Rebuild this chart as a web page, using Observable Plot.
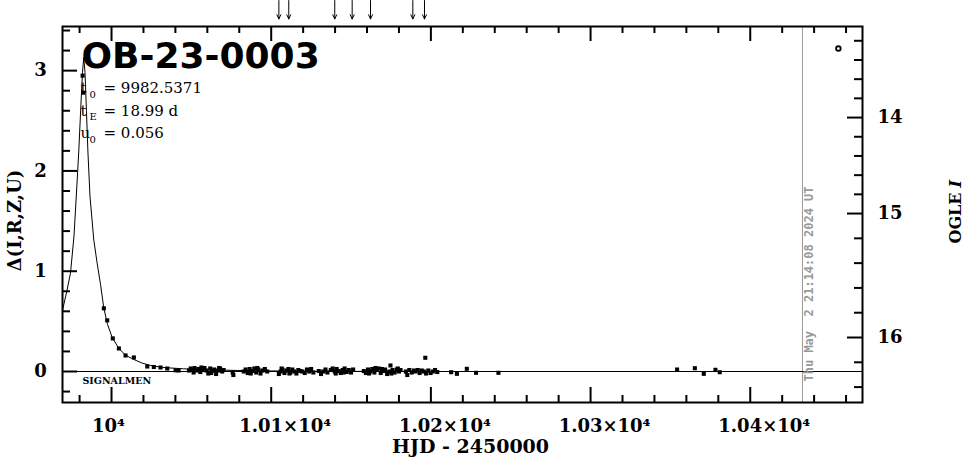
<!DOCTYPE html>
<html><head><meta charset="utf-8">
<script src="https://cdn.jsdelivr.net/npm/d3@7"></script>
<script src="https://cdn.jsdelivr.net/npm/@observablehq/plot@0.6"></script>
<style>
html,body{margin:0;padding:0;background:#fff;}
svg{display:block}
svg text{white-space:pre}
</style>
</head><body><div id="chart"></div>
<script>
// ---------- data ----------
const eventName = "OB-23-0003";
const paramRows = [
  {sym: "t", sub: "0", rest: "= 9982.5371"},
  {sym: "t", sub: "E", rest: "= 18.99 d"},
  {sym: "u", sub: "0", rest: "= 0.056"}
];
const surveyLabel = "SIGNALMEN";
const stampText = "Thu May  2 21:14:08 2024 UT";
const stampT = 10432.7;
const xTitle = "HJD - 2450000";
const yTitle = "\u0394(I,R,Z,U)";
const rightTitle = "OGLE";
const rightTitleItalic = "I";

const xMajor = [10000, 10100, 10200, 10300, 10400];
const xLabels = ["10\u2074", "1.01\u00d710\u2074", "1.02\u00d710\u2074", "1.03\u00d710\u2074", "1.04\u00d710\u2074"];
const xMinor = [9980, 10020, 10040, 10060, 10080, 10120, 10140, 10160, 10180, 10220, 10240, 10260, 10280, 10320, 10340, 10360, 10380, 10420, 10440, 10460];
const yMajor = [0, 1, 2, 3];
const yMinor = [-0.2, 0.2, 0.4, 0.6, 0.8, 1.2, 1.4, 1.6, 1.8, 2.2, 2.4, 2.6, 2.8, 3.2, 3.4];
const magMajor = [14, 15, 16];
const magMajorDelta = [2.532, 1.575, 0.339];   // where the magnitude ticks sit on the left scale
const magMinor = [13.2, 13.4, 13.6, 13.8, 14.2, 14.4, 14.6, 14.8, 15.2, 15.4, 15.6, 15.8, 16.2, 16.4];

// times of the arrows drawn above the frame
const arrowT = [10104.8, 10111.0, 10139.8, 10150.7, 10162.2, 10188.7, 10196.0];
// OGLE marker at top right
const oglePoint = [[10455.2, 3.22]];

// model curve
const modelCurve = [
  [9969.3, 0.61], [9972.0, 0.80], [9974.3, 0.98], [9976.5, 1.35], [9978.3, 1.85],
  [9979.5, 2.20], [9980.8, 2.65], [9981.8, 2.98], [9982.6, 3.13], [9983.4, 2.98],
  [9984.3, 2.60], [9985.2, 2.20], [9986.5, 1.75], [9988.9, 1.31], [9991.0, 1.08],
  [9993.1, 0.87], [9995.2, 0.63], [9997.5, 0.47], [10000.4, 0.34], [10004.6, 0.23],
  [10009.0, 0.16], [10014.0, 0.12], [10019.0, 0.085], [10024.5, 0.06], [10032.0, 0.04],
  [10045.0, 0.027], [10065.0, 0.015], [10090.0, 0.007], [10130.0, 0.002], [10200.0, 0.0],
  [10470.3, 0.0]
];

// observations [HJD-2450000, Delta]
const obs = [
  [9981.9, 2.95], [9982.2, 2.78],
  [9995.2, 0.63], [9997.3, 0.51], [10000.8, 0.33], [10004.6, 0.23], [10008.8, 0.16],
  [10014.0, 0.14], [10022.4, 0.05], [10026.5, 0.045], [10030.7, 0.04], [10034.9, 0.03],
  [10040.1, 0.012], [10042.0, 0.01],
  [10048.5, 0.01], [10049.6, 0.03], [10050.8, 0.015], [10052.0, 0.035], [10053.3, 0.01],
  [10054.5, 0.025], [10055.6, -0.005], [10057.0, 0.015], [10058.2, 0.035], [10059.5, 0.01],
  [10060.6, -0.02], [10061.8, 0.03], [10063.0, 0.005], [10064.3, 0.02], [10065.5, -0.025],
  [10066.8, 0.01], [10068.0, 0.03], [10069.3, 0.0], [10070.2, 0.015],
  [10051.4, -0.01], [10056.3, 0.04], [10062.4, -0.015], [10067.4, 0.035],
  [10075.9, -0.01], [10076.3, -0.035],
  [10082.8, 0.0], [10084.0, 0.02], [10085.3, -0.015], [10086.5, 0.025], [10088.0, 0.005],
  [10089.4, 0.03], [10090.6, -0.01], [10092.0, 0.02], [10093.3, -0.02], [10094.6, 0.01],
  [10096.0, 0.025], [10097.5, 0.0], [10087.2, -0.02], [10091.3, 0.035],
  [10104.8, -0.025], [10105.9, 0.0], [10107.0, 0.02], [10108.3, -0.015], [10109.5, 0.01],
  [10110.8, 0.025], [10112.0, -0.01], [10113.2, 0.02], [10114.5, 0.0], [10115.8, -0.02],
  [10117.0, 0.015], [10118.3, 0.005], [10106.5, 0.03], [10111.4, -0.02],
  [10119.5, 0.0], [10121.0, -0.015], [10122.4, 0.02], [10123.8, 0.0], [10125.0, 0.025], [10126.4, -0.01],
  [10129.8, 0.005], [10131.2, -0.025], [10132.6, 0.0], [10134.0, 0.02], [10135.2, -0.01],
  [10137.3, 0.015], [10138.5, 0.03], [10139.8, 0.0], [10141.0, 0.025], [10142.3, 0.005],
  [10143.5, -0.015], [10144.8, 0.015], [10146.0, 0.03], [10147.3, -0.005], [10148.6, 0.015],
  [10150.0, -0.01], [10151.3, 0.02], [10140.4, -0.02], [10145.4, -0.01],
  [10158.0, 0.005], [10159.3, -0.015], [10160.6, 0.02], [10162.0, 0.0], [10163.3, 0.025],
  [10164.6, -0.01], [10166.0, 0.015], [10167.3, 0.03], [10168.6, -0.015], [10170.0, 0.005],
  [10171.3, 0.02], [10172.6, -0.025], [10174.0, 0.0], [10174.7, 0.06], [10176.0, 0.015],
  [10177.3, -0.01], [10178.6, 0.02], [10180.0, 0.0], [10181.0, 0.015],
  [10161.3, -0.02], [10165.3, 0.035], [10169.3, 0.025], [10175.3, -0.02], [10179.3, 0.03],
  [10184.3, 0.0], [10185.2, -0.035], [10186.5, 0.015], [10188.0, -0.01], [10189.4, 0.01], [10190.4, 0.0],
  [10191.8, 0.015], [10193.0, -0.015], [10194.3, 0.01], [10195.6, 0.0], [10196.5, 0.137],
  [10197.0, -0.02], [10198.4, 0.01], [10199.8, -0.015], [10201.2, 0.0], [10202.6, 0.015], [10204.0, -0.005],
  [10212.7, -0.007], [10216.3, -0.023], [10222.5, 0.027], [10228.3, -0.013], [10242.3, -0.013],
  [10354.2, 0.02], [10365.3, 0.033], [10370.9, -0.023], [10378.2, 0.017], [10380.9, -0.007]
];

// ---------- layout ----------
const W = 965, H = 459;
const mL = 62, mR = 103, mT = 26, mB = 57;
const fW = W - mL - mR, fH = H - mT - mB;
const xDomain = [9969.3, 10470.3];
const yDomain = [-0.309, 3.44];
const serif = "DejaVu Serif";

const magToDelta = d3.scaleLinear().domain(magMajor).range(magMajorDelta);

function at(text, px, py, o = {}) {
  return Plot.text([text], {
    text: d => d, frameAnchor: "top-left", dx: px - mL, dy: py - mT,
    textAnchor: "start", lineAnchor: "middle", ...o
  });
}

const marks = [
  Plot.ruleY([0], {stroke: "black", strokeWidth: 1}),
  Plot.ruleX([stampT], {stroke: "#999", strokeWidth: 1}),
  Plot.line(modelCurve, {x: d => d[0], y: d => d[1], stroke: "black", strokeWidth: 1, clip: true}),
  Plot.dot(obs, {x: d => d[0], y: d => d[1], symbol: "square", r: 2.3, fill: "black", stroke: "none", clip: true}),
  Plot.dot(oglePoint, {x: d => d[0], y: d => d[1], r: 2.3, fill: "white", stroke: "black", strokeWidth: 1.8}),
  Plot.frame({stroke: "black", strokeWidth: 2}),
  // x ticks bottom / top
  Plot.ruleX(xMajor, {insetTop: fH - 15, stroke: "black", strokeWidth: 2}),
  Plot.ruleX(xMinor, {insetTop: fH - 7, stroke: "black", strokeWidth: 2}),
  Plot.ruleX(xMajor, {insetBottom: fH - 15, stroke: "black", strokeWidth: 2}),
  Plot.ruleX(xMinor, {insetBottom: fH - 7, stroke: "black", strokeWidth: 2}),
  // y ticks left
  Plot.ruleY(yMajor, {insetRight: fW - 15, stroke: "black", strokeWidth: 2}),
  Plot.ruleY(yMinor, {insetRight: fW - 8, stroke: "black", strokeWidth: 2}),
  // right magnitude ticks
  Plot.ruleY(magMajor, {y: d => magToDelta(d), insetLeft: fW - 15, stroke: "black", strokeWidth: 2}),
  Plot.ruleY(magMinor, {y: d => magToDelta(d), insetLeft: fW - 8, stroke: "black", strokeWidth: 2}),
  // tick labels
  Plot.text(xMajor.slice(0, 1), {x: d => d, text: (d, i) => xLabels[i], frameAnchor: "bottom", dy: 24, dx: -3, textAnchor: "middle", lineAnchor: "middle"}),
  Plot.text(xMajor.slice(1), {x: d => d, text: (d, i) => xLabels[i + 1], frameAnchor: "bottom", dy: 24, dx: 14, textAnchor: "middle", lineAnchor: "middle"}),
  Plot.text(yMajor, {y: d => d, text: d => String(d), frameAnchor: "left", dx: -22, textAnchor: "middle", lineAnchor: "middle"}),
  Plot.text(magMajor, {y: d => magToDelta(d), text: d => String(d), frameAnchor: "right", dx: 15, textAnchor: "start", lineAnchor: "middle"}),
  // axis titles
  at(xTitle, 470, 446, {textAnchor: "middle", fontSize: 19}),
  at(yTitle, 15, 220, {textAnchor: "middle", rotate: -90, fontSize: 18}),
  at(rightTitle, 955, 243, {textAnchor: "start", rotate: -90, fontSize: 16}),
  at(rightTitleItalic, 955, 187, {textAnchor: "start", rotate: -90, fontSize: 16, fontStyle: "italic"}),
  // arrows above the frame
  Plot.arrow(arrowT, {x1: d => d, x2: d => d, y1: 3.699, y2: 3.515, stroke: "black", strokeWidth: 1, headLength: 7, headAngle: 50}),
  // title and parameters
  at(eventName, 81, 56, {fontFamily: "DejaVu Sans", fontSize: 36, fontWeight: "bold"}),
  ...paramRows.flatMap((r, i) => {
    const y = 88 + i * 22.5;
    return [
      at(r.sym, 80, y, {fontSize: 15, fontWeight: "normal", fill: "black"}),
      at(r.sub, 89, y + 6, {fontSize: 10, fontWeight: "normal", fill: "black"}),
      at(r.rest, 103, y, {fontSize: 15, fontWeight: "normal", fill: "black"})
    ];
  }),
  at(surveyLabel, 82, 380, {fontSize: 9.5, fontWeight: "bold"}),
  // timestamp along the gray line
  Plot.text([stampText], {x: stampT, text: d => d, frameAnchor: "bottom", dy: -21, dx: 7, rotate: -90,
    textAnchor: "start", lineAnchor: "middle", fill: "#999", fontFamily: "DejaVu Sans Mono", fontWeight: "bold", fontSize: 12})
];

const chart = Plot.plot({
  width: W, height: H,
  marginLeft: mL, marginRight: mR, marginTop: mT, marginBottom: mB,
  x: {domain: xDomain, axis: null},
  y: {domain: yDomain, axis: null},
  style: {fontFamily: serif, fontSize: "18px", fontWeight: "bold", background: "white", color: "black", overflow: "visible"},
  marks
});
document.getElementById("chart").appendChild(chart);
</script></body></html>
